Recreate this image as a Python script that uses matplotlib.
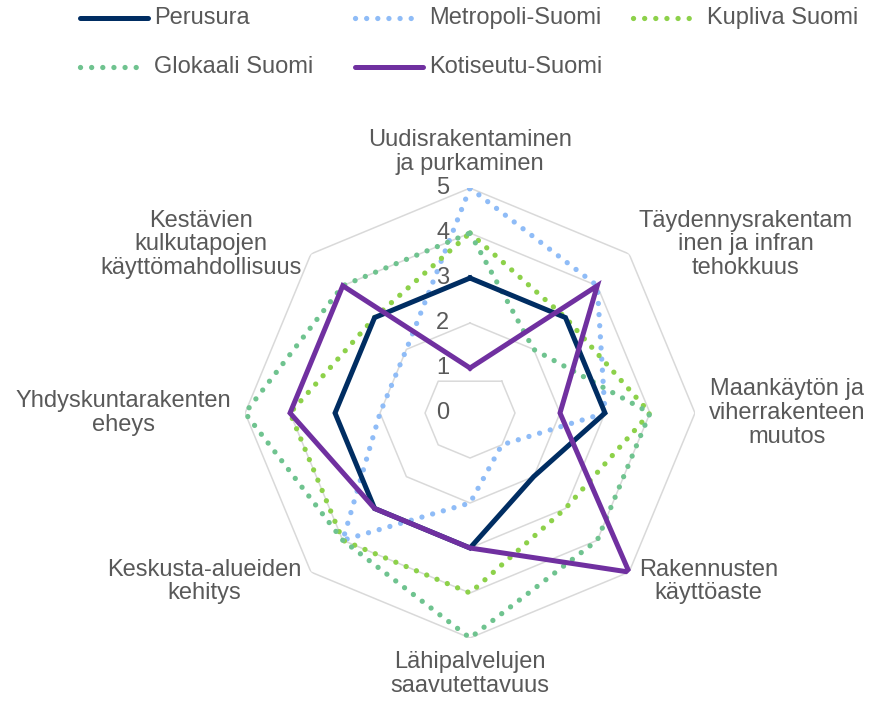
import numpy as np
import matplotlib
matplotlib.use("Agg")
import matplotlib.pyplot as plt
from matplotlib.lines import Line2D

plt.rcParams['font.family'] = ['Liberation Sans', 'DejaVu Sans']

# akselit (myötäpäivään ylhäältä alkaen)
categories = [
    "Uudisrakentaminen\nja purkaminen",
    "Täydennysrakentam\ninen ja infran\ntehokkuus",
    "Maankäytön ja\nviherrakenteen\nmuutos",
    "Rakennusten\nkäyttöaste",
    "Lähipalvelujen\nsaavutettavuus",
    "Keskusta-alueiden\nkehitys",
    "Yhdyskuntarakenten\neheys",
    "Kestävien\nkulkutapojen\nkäyttömahdollisuus",
]

perusura = [3, 3, 3, 2, 3, 3, 3, 3]
metropoli = [5, 4, 3, 1, 2, 4, 2, 2]
kupliva = [4, 3, 4, 3, 4, 4, 4, 3]
glokaali = [4, 2, 4, 4, 5, 4, 5, 4]
kotiseutu = [1, 4, 2, 5, 3, 3, 4, 4]

series_names = ["Perusura", "Metropoli-Suomi", "Kupliva Suomi", "Glokaali Suomi", "Kotiseutu-Suomi"]
series_vals = [perusura, metropoli, kupliva, glokaali, kotiseutu]
colors = ["#002D62", "#8FBCF7", "#8DD14A", "#6FC38F", "#7030A0"]
dotted = [False, True, True, True, False]
ticks = [0, 1, 2, 3, 4, 5]

text_col = "#595959"
grid_col = "#D9D9D9"
fs = 17

n = len(categories)
angles = np.arange(n) * 2 * np.pi / n

fig = plt.figure(figsize=(8.83, 7.03), dpi=100)
ax = fig.add_axes([0.2775, 0.0925, 0.5096, 0.640], projection="polar")
ax.set_theta_zero_location("N")
ax.set_theta_direction(-1)
ax.set_ylim(0, 5)
ax.axis("off")

# verkko (kehä 1 piirtyy alkuperäisessä ilman ylintä kärkeä)
for t in ticks[1:]:
    if t == 1:
        a = np.append(angles[1:], angles[1])
    else:
        a = np.append(angles, angles[0])
    ax.plot(a, [t] * len(a), color=grid_col, lw=1.1, zorder=1)

for t in ticks:
    ax.annotate(str(t), xy=(0, t), xytext=(-15, 0), textcoords="offset points",
                ha="right", va="center", fontsize=fs, color=text_col)

closed = np.append(angles, angles[0])
for name, vals, c, d in zip(series_names, series_vals, colors, dotted):
    v = list(vals) + [vals[0]]
    if d:
        ax.plot(closed, v, color=c, lw=3.8, linestyle=(0, (0.01, 2.1)),
                dash_capstyle="round", solid_joinstyle="round", zorder=3)
    else:
        ax.plot(closed, v, color=c, lw=3.6, solid_joinstyle="miter", zorder=4)

# akselien nimet
align = [("center", "bottom"), ("left", "center"), ("left", "center"), ("left", "center"),
         ("center", "top"), ("right", "center"), ("right", "center"), ("right", "center")]
for ang, lab, (ha, va) in zip(angles, categories, align):
    ax.text(ang, 5.3, lab, ha=ha, va=va, multialignment="center",
            fontsize=fs, color=text_col, linespacing=1.1)

# selite
W, H = 883, 703
legend_pos = [(80, 18), (355, 18), (633, 18), (80, 67), (355, 67)]
for (x, y), name, c, d in zip(legend_pos, series_names, colors, dotted):
    yy = 1 - y / H
    if d:
        ln = Line2D([x / W, (x + 66) / W], [yy, yy], color=c, lw=3.8,
                    linestyle=(0, (0.01, 2.1)), dash_capstyle="round")
    else:
        ln = Line2D([x / W, (x + 68) / W], [yy, yy], color=c, lw=3.6,
                    solid_capstyle="round")
    fig.add_artist(ln)
    fig.text((x + 74) / W, yy, name, ha="left", va="center", fontsize=fs, color=text_col)

fig.savefig("out.png", dpi=100)
